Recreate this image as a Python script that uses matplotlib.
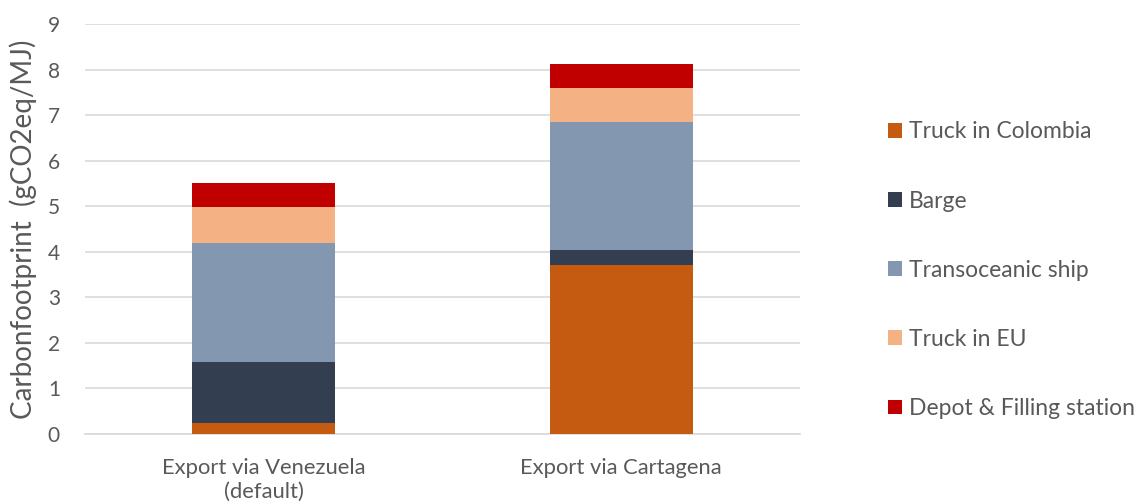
import matplotlib
matplotlib.use("Agg")
import matplotlib.pyplot as plt
import numpy as np

plt.rcParams['font.family'] = ['Lato', 'DejaVu Sans']

routes = ["Export via Venezuela\n(default)", "Export via Cartagena"]
stages = ["Truck in Colombia", "Barge", "Transoceanic ship", "Truck in EU", "Depot & Filling station"]
truck_colombia = [0.24, 3.71]
barge = [1.33, 0.33]
ship = [2.62, 2.81]
truck_eu = [0.79, 0.74]
depot = [0.54, 0.53]
colors = ["#C55A11", "#333F50", "#8497B0", "#F4B183", "#C00000"]

fig = plt.figure(figsize=(11.36, 5.04), dpi=100)
ax = fig.add_axes([0.0748, 0.139, 0.6294, 0.813])

x = np.arange(len(routes))
bottom = np.zeros(len(routes))
handles = []
for vals, lab, col in zip([truck_colombia, barge, ship, truck_eu, depot], stages, colors):
    b = ax.bar(x, vals, width=0.4, bottom=bottom, color=col, label=lab, zorder=3)
    handles.append(b)
    bottom += np.array(vals)

ax.set_xlim(-0.5, 1.5)
ax.set_ylim(0, 9)
ax.set_yticks(range(10))
ax.set_xticks(x)
ax.set_xticklabels(routes, fontsize=15.8, color="#595959", linespacing=1.25)
ax.tick_params(axis='y', length=0, pad=18, labelsize=15, labelcolor="#595959")
ax.tick_params(axis='x', length=0, pad=17.5)
ax.grid(axis='y', color="#D9D9D9", linewidth=1.2, zorder=0)
for s in ['top', 'right', 'left']:
    ax.spines[s].set_visible(False)
ax.spines['bottom'].set_color("#D9D9D9")
ax.spines['bottom'].set_linewidth(1.2)
ax.set_ylabel("Carbonfootprint  (gCO2eq/MJ)", fontsize=20, color="#595959", labelpad=8)

fig.legend(handles, stages, loc='center left', bbox_to_anchor=(0.782, 0.464),
           frameon=False, fontsize=16.5, labelcolor="#595959", borderpad=0, borderaxespad=0,
           labelspacing=2.1, handlelength=0.6, handleheight=0.6, handletextpad=0.3)

fig.savefig("out.png", dpi=100)
